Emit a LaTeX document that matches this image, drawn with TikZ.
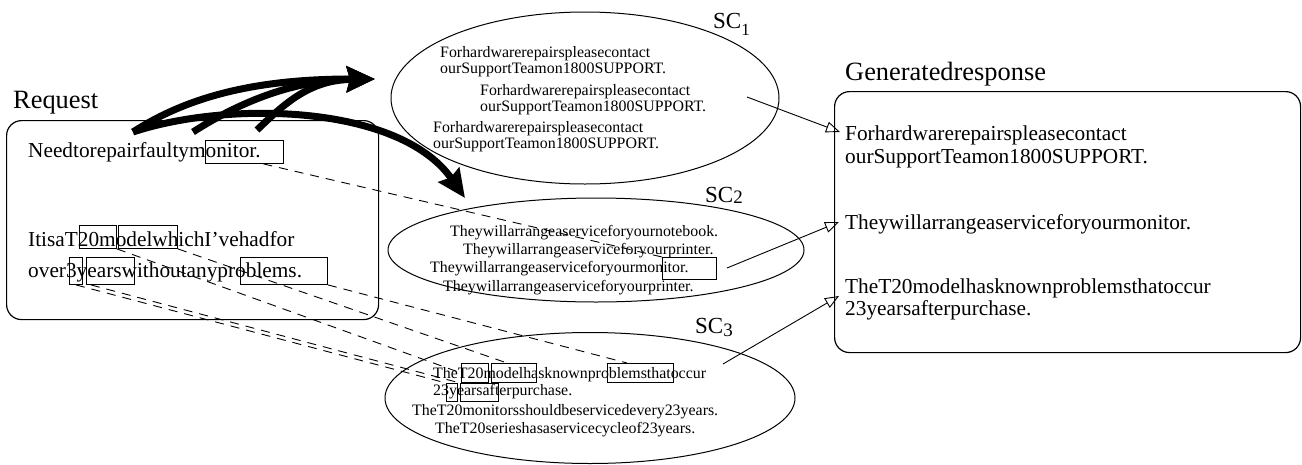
\documentclass[tikz,border=0pt]{standalone}
\usepackage{fontspec}
\setmainfont{Liberation Serif}
\usetikzlibrary{arrows.meta,calc,shapes.geometric}
\begin{document}
\begin{tikzpicture}[x=1pt,y=-1pt,
  big/.style={font=\fontsize{21.3}{24}\selectfont, anchor=base west, inner sep=0pt},
  small/.style={font=\fontsize{15.9}{18}\selectfont, anchor=base west, inner sep=0pt},
  lbl/.style={font=\fontsize{26.4}{30}\selectfont, anchor=base west, inner sep=0pt},
  sclbl/.style={font=\fontsize{23}{26}\selectfont, anchor=base west, inner sep=0pt},
  hl/.style={draw, rectangle, inner sep=0pt, anchor=north west, line width=0.9pt},
  frame/.style={draw, rectangle, rounded corners=15pt, line width=1.2pt, anchor=north west, inner sep=0pt},
  scell/.style={draw, ellipse, line width=1pt, inner sep=0pt},
  fat/.style={line width=7pt, -{Stealth[length=28pt,width=25pt,inset=3pt]}},
  thin/.style={line width=0.9pt, -{Triangle[open,length=14pt,width=11pt]}},
  align/.style={dashed, dash pattern=on 9pt off 7pt, line width=0.9pt}
]
\useasboundingbox (0,0) rectangle (1302,464);

% ---------- Request ----------
\node[lbl] (reqlbl) at (13,108) {Request};
\node[frame, minimum width=372, minimum height=199] (req) at (6,120) {};
\node[big] (r1) at (28,157) {Needtorepairfaultymonitor.};
\node[big] (r2) at (28,246) {ItisaT20modelwhichI’vehadfor};
\node[big] (r3) at (28,277) {over3yearswithoutanyproblems.};
\node[hl, minimum width=78, minimum height=23] (rqmon) at (205,140) {};
\node[hl, minimum width=37, minimum height=23] (rqt) at (79,225) {};
\node[hl, minimum width=59, minimum height=23] (rqodel) at (118,225) {};
\node[hl, minimum width=13, minimum height=27] (rqthree) at (69,257) {};
\node[hl, minimum width=48, minimum height=27] (rqyears) at (86,257) {};
\node[hl, minimum width=87, minimum height=27] (rqblems) at (240,257) {};

% ---------- SC1 ----------
\node[scell, minimum width=388, minimum height=172] (sc1) at (585,98) {};
\node[sclbl] (sc1l) at (713,28) {SC\raisebox{-7pt}{\fontsize{17}{17}\selectfont 1}};
\node[small] (s1a) at (440,57) {Forhardwarerepairspleasecontact};
\node[small] (s1b) at (440,73) {ourSupportTeamon1800SUPPORT.};
\node[small] (s1c) at (480,95) {Forhardwarerepairspleasecontact};
\node[small] (s1d) at (480,111) {ourSupportTeamon1800SUPPORT.};
\node[small] (s1e) at (433,132) {Forhardwarerepairspleasecontact};
\node[small] (s1f) at (433,148) {ourSupportTeamon1800SUPPORT.};

% ---------- SC2 ----------
\node[scell, minimum width=416, minimum height=104] (sc2) at (596,250) {};
\node[sclbl] (sc2l) at (705,202) {SC\raisebox{-1pt}{\fontsize{19}{19}\selectfont 2}};
\node[small] (s2a) at (450,236) {Theywillarrangeaserviceforyournotebook.};
\node[small] (s2b) at (463,254) {Theywillarrangeaserviceforyourprinter.};
\node[small] (s2c) at (430,272) {Theywillarrangeaserviceforyourmonitor.};
\node[small] (s2d) at (443,291) {Theywillarrangeaserviceforyourprinter.};
\node[hl, minimum width=54, minimum height=22] (scmon) at (662,257) {};

% ---------- SC3 ----------
\node[scell, minimum width=410, minimum height=131] (sc3) at (590,398) {};
\node[sclbl] (sc3l) at (695,333) {SC\raisebox{-3pt}{\fontsize{19}{19}\selectfont 3}};
\node[small] (s3a) at (433,378) {TheT20modelhasknownproblemsthatoccur};
\node[small] (s3b) at (433,395) {23yearsafterpurchase.};
\node[small] (s3c) at (412,415) {TheT20monitorsshouldbeservicedevery23years.};
\node[small] (s3d) at (435,433) {TheT20serieshasaservicecycleof23years.};
\node[hl, minimum width=27, minimum height=19] (sct) at (461,363) {};
\node[hl, minimum width=45, minimum height=19] (scodel) at (491,363) {};
\node[hl, minimum width=66, minimum height=19] (scblems) at (607,363) {};
\node[hl, minimum width=11, minimum height=18] (scye) at (446,383) {};
\node[hl, minimum width=38, minimum height=18] (scarsaf) at (460,383) {};

% ---------- Generated response ----------
\node[lbl] (resplbl) at (845,80) {Generatedresponse};
\node[frame, minimum width=466, minimum height=261] (resp) at (834,91) {};
\node[big] (g1a) at (845,140) {Forhardwarerepairspleasecontact};
\node[big] (g1b) at (845,163) {ourSupportTeamon1800SUPPORT.};
\node[big] (g2) at (845,229) {Theywillarrangeaserviceforyourmonitor.};
\node[big] (g3a) at (845,293) {TheT20modelhasknownproblemsthatoccur};
\node[big] (g3b) at (845,315) {23yearsafterpurchase.};

% ---------- alignment lines ----------
\draw[align] ($(rqmon.south west)!0.74!(rqmon.south east)$) -- (scmon.north west);
\draw[align] (rqt.south east) -- (sct.west);
\draw[align] (rqodel.south east) -- ($(scodel.north west)!0.35!(scodel.north east)$);
\draw[align] (rqblems.south east) -- ($(scblems.north west)!0.3!(scblems.north east)$);
\draw[align] (rqthree.south) -- (scye.north west);
\draw[align] ($(rqyears.south west)!0.1!(rqyears.south east)$) -- (scarsaf.north west);

% ---------- retrieval arrows ----------
\coordinate (a1) at (133,132);
\coordinate (a2) at (193,132);
\coordinate (a3) at (257,130);
\coordinate (t1) at (375,79);
\coordinate (t2) at (465,198);
\draw[fat] (a1) .. controls (190,95) and (260,79) .. (t1);
\draw[fat] (a2) .. controls (235,105) and (290,80) .. (t1);
\draw[fat] (a3) .. controls (285,103) and (310,80) .. (t1);
\draw[fat] (a1) .. controls (230,100) and (400,105) .. (t2);

% ---------- selection arrows ----------
\coordinate (o1) at (747,97);
\coordinate (o2) at (727,268);
\coordinate (o3) at (723,364);
\coordinate (i1) at (840,132);
\coordinate (i2) at (839,222);
\coordinate (i3) at (839,296);
\draw[thin] (o1) -- (i1);
\draw[thin] (o2) -- (i2);
\draw[thin] (o3) -- (i3);
\end{tikzpicture}
\end{document}
